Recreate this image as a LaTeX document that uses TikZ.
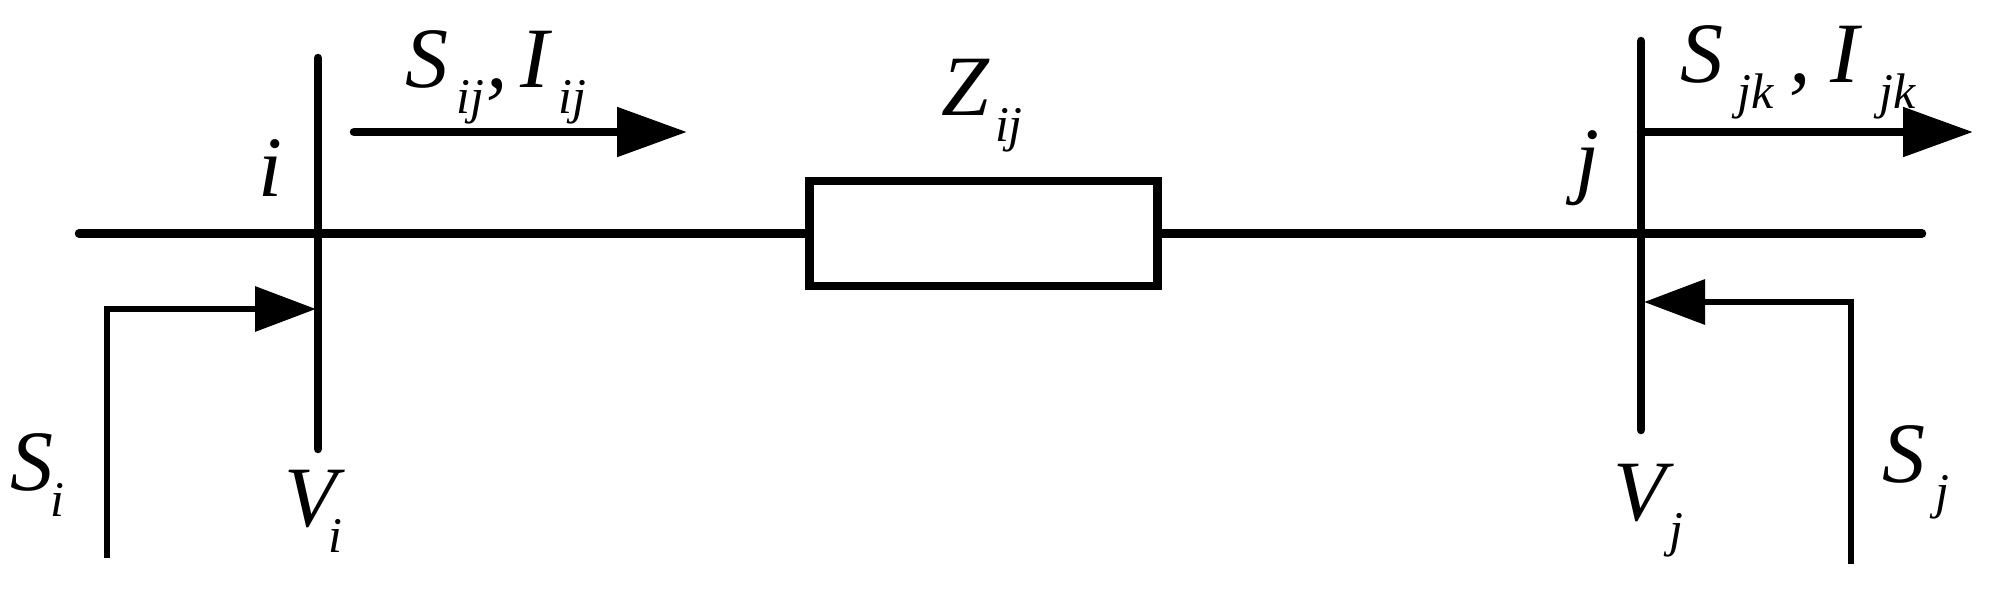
\documentclass[tikz,border=0pt]{standalone}
\usepackage{fontspec}
\setmainfont{Liberation Serif}
\usetikzlibrary{arrows.meta}
\newcommand{\bigit}{\fontsize{86}{86}\selectfont\itshape}
\newcommand{\subit}[1]{\raisebox{-26pt}{\fontsize{50}{50}\selectfont\itshape #1}}
\tikzset{
  x=1pt,y=-1pt,
  wire/.style={line width=8.5pt,line cap=round},
  feed/.style={line width=6.5pt,miter limit=10},
  headA/.style={-{Triangle[length=70pt,width=48pt]}},
  headB/.style={-{Triangle[length=61pt,width=44pt]}},
  lab/.style={inner sep=0pt,anchor=base west},
  imp/.style={draw,line width=8.5pt,minimum width=348pt,minimum height=105pt,inner sep=0pt,fill=white}
}
\begin{document}
\begin{tikzpicture}
\useasboundingbox (0,0) rectangle (1996,590);
% named points
\coordinate (mainL) at (79,233.5);
\coordinate (mainR) at (1922,233.5);
\coordinate (iT) at (318,58);
\coordinate (iB) at (318,449);
\coordinate (jT) at (1641,41);
\coordinate (jB) at (1641,430);
\coordinate (aS) at (354,132);
\coordinate (aE) at (687,132);
\coordinate (bS) at (1641,132);
\coordinate (bE) at (1973,132);
\coordinate (siB) at (107,558);
\coordinate (siC) at (107,309);
\coordinate (siE) at (316,309);
\coordinate (sjB) at (1851,564);
\coordinate (sjC) at (1851,302);
\coordinate (sjE) at (1644,302);
% lines
\draw[wire] (mainL) -- (mainR);
\node[imp] (Z) at (983.5,233.5) {};
\draw[wire] (iT) -- (iB);
\draw[wire] (jT) -- (jB);
\draw[wire,headA] (aS) -- (aE);
\draw[wire,headA] (bS) -- (bE);
\draw[feed,headB] (siB) -- (siC) -- (siE);
\draw[feed,headB] (sjB) -- (sjC) -- (sjE);
% labels
\node[lab] (lSij) at (405,87) {\bigit S\kern8pt\subit{ij}\kern3pt,\kern12pt I\kern9pt\subit{ij}};
\node[lab] (lZ) at (941,115) {\bigit Z\kern6pt\subit{ij}};
\node[lab] (lSjk) at (1680,82) {\bigit S\kern14pt\subit{jk}\kern16pt,\kern20pt I\kern20pt\subit{jk}};
\node[lab] (li) at (258,196) {\bigit i};
\node[lab] (lj) at (1575,187) {\bigit j};
\node[lab] (lSi) at (10,490) {\bigit S\kern-3pt\subit{i}};
\node[lab] (lVi) at (284,526) {\bigit V\kern-8pt\subit{i}};
\node[lab] (lVj) at (1613,520) {\bigit V\kern4pt\subit{j}};
\node[lab] (lSj) at (1882,482) {\bigit S\kern10pt\subit{j}};
\end{tikzpicture}
\end{document}
